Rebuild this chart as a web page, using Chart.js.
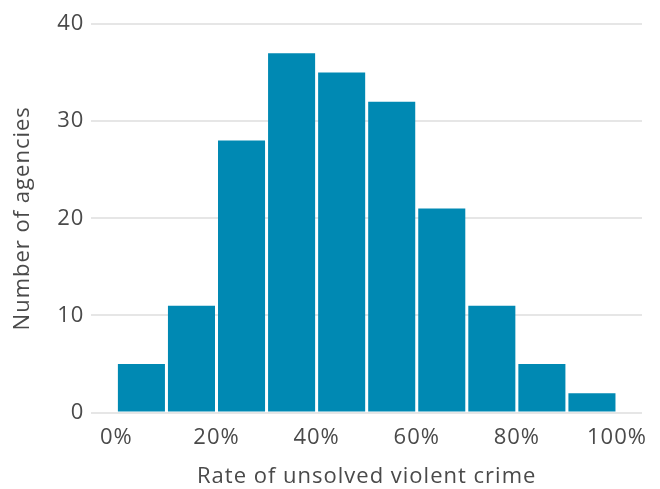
<!DOCTYPE html>
<html>
<head>
<meta charset="utf-8">
<script src="https://cdn.jsdelivr.net/npm/chart.js@4.4.0/dist/chart.umd.min.js"></script>
<style>
  html, body { margin: 0; padding: 0; background: #fff; }
  #wrap { width: 660px; height: 489px; }
</style>
</head>
<body>
<div id="wrap"><canvas id="c"></canvas></div>
<script>
// bin centres (percent) and counts
const binCenters = [5, 15, 25, 35, 45, 55, 65, 75, 85, 95]
const counts = [5, 11, 28, 37, 35, 32, 21, 11, 5, 2]
const xTicks = [0, 20, 40, 60, 80, 100]
const yTicks = [0, 10, 20, 30, 40]

const textColor = '#4a4a4a'
const font = { family: '"Open Sans", sans-serif', size: 22, lineHeight: 1.1 }

// the reference type is a bit wider than Open Sans
const spacing = {
  id: 'spacing',
  beforeLayout(chart) { chart.ctx.letterSpacing = '1px' },
  beforeDraw(chart) { chart.ctx.letterSpacing = '1px' }
}

new Chart(document.getElementById('c'), {
  type: 'bar',
  data: {
    datasets: [{
      data: binCenters.map((x, i) => ({ x: x, y: counts[i] })),
      backgroundColor: '#0089b3',
      barPercentage: 0.94,
      categoryPercentage: 1
    }]
  },
  plugins: [spacing],
  options: {
    responsive: true,
    maintainAspectRatio: false,
    animation: false,
    layout: { padding: { top: 24, right: 18, left: 7, bottom: 0 } },
    plugins: {
      legend: { display: false },
      tooltip: { enabled: false }
    },
    scales: {
      x: {
        type: 'linear',
        offset: false,
        min: -5,
        max: 105,
        grid: { display: false },
        border: { display: false },
        afterBuildTicks: (axis) => {
          axis.ticks = xTicks.map(v => ({ value: v }))
        },
        ticks: {
          color: textColor,
          font: font,
          padding: 5,
          callback: (v) => v + '%'
        },
        title: {
          display: true,
          text: 'Rate of unsolved violent crime',
          color: textColor,
          font: font,
          padding: { top: 10, bottom: 0 }
        }
      },
      y: {
        min: 0,
        max: 40,
        grid: { color: '#e6e6e6', lineWidth: 2, drawTicks: false },
        border: { display: false },
        afterBuildTicks: (axis) => {
          axis.ticks = yTicks.map(v => ({ value: v }))
        },
        ticks: {
          color: textColor,
          font: font,
          padding: 7
        },
        title: {
          display: true,
          text: 'Number of agencies',
          color: textColor,
          font: font,
          padding: { bottom: 15 }
        }
      }
    }
  }
})
</script>
</body>
</html>
